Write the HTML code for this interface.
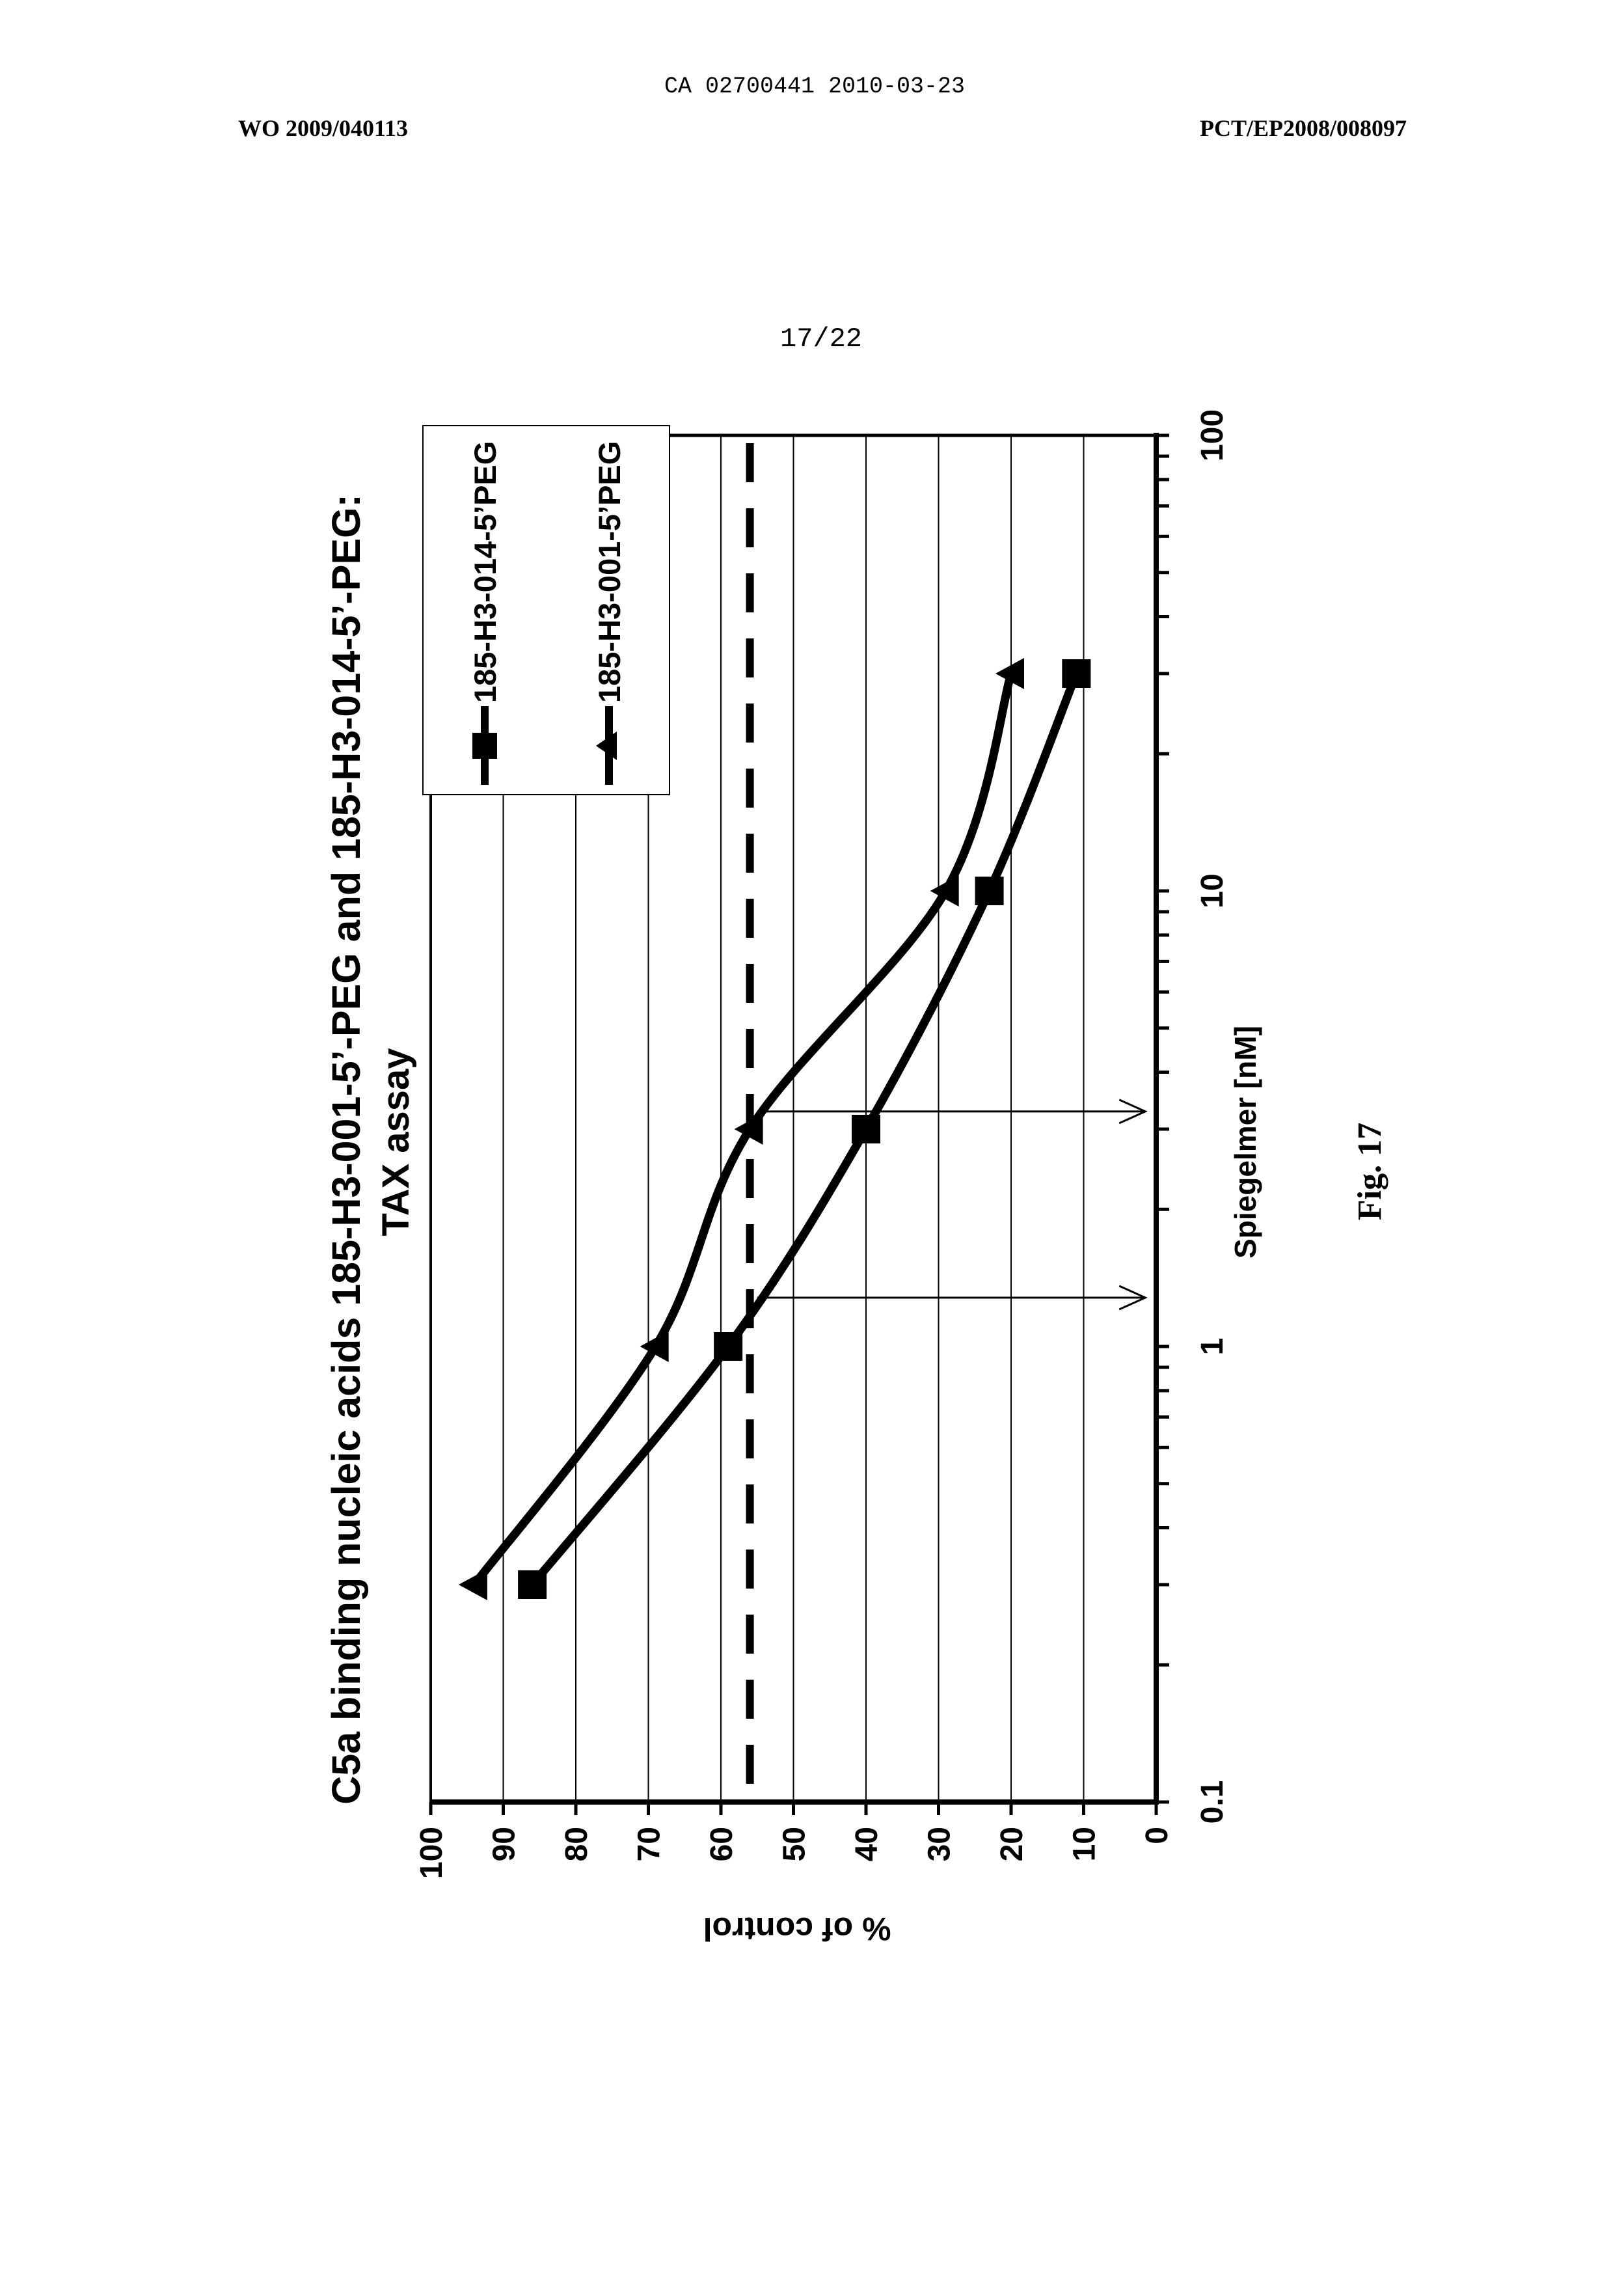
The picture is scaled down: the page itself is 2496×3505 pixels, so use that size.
<!DOCTYPE html>
<html><head><meta charset="utf-8"><style>
html,body{margin:0;padding:0;background:#fff;}
svg{display:block;}
text{font-family:"Liberation Sans",Arial,sans-serif;font-weight:bold;fill:#000;}
.ser{font-family:"Liberation Serif",serif;}
.mono{font-family:"Liberation Mono",monospace;font-weight:normal;}
</style></head><body>
<svg id="chart" width="2496" height="3505" viewBox="0 0 2496 3505" xmlns="http://www.w3.org/2000/svg">
<text class="mono" x="1252" y="142" font-size="35" text-anchor="middle">CA 02700441 2010-03-23</text>
<text class="ser" x="366" y="209" font-size="36">WO 2009/040113</text>
<text class="ser" x="2162" y="209" font-size="36" text-anchor="end">PCT/EP2008/008097</text>
<text class="mono" x="1262" y="532" font-size="42" text-anchor="middle">17/22</text>
<g id="plot"></g>
<text transform="translate(553,1766) rotate(-90)" font-size="61" text-anchor="middle">C5a binding nucleic acids 185-H3-001-5’-PEG and 185-H3-014-5’-PEG:</text>
<text transform="translate(628,1755) rotate(-90)" font-size="58" text-anchor="middle">TAX assay</text>
<text transform="translate(1225,2960) rotate(180)" font-size="50" text-anchor="middle" dominant-baseline="middle">% of control</text>
<text transform="translate(1930,1755) rotate(-90)" font-size="46" text-anchor="middle">Spiegelmer [nM]</text>
<text class="ser" transform="translate(2122,1800) rotate(-90)" font-size="52" text-anchor="middle">Fig. 17</text>
</svg>
<script>
const yTicks = [0,10,20,30,40,50,60,70,80,90,100];
const xTicks = [0.1,1,10,100];
const concSquare = [0.3,1,3,10,30];
const valSquare = [86,59,40,23,11];
const concTri = [0.3,1,3,10,30];
const valTri = [94,69,56,29,20];
const thresholdValue = 56;
const arrowConc = [3.28,1.28];
const arrowFrom = [55,55];
const arrowTo = [1.5,1.5];
const legendLabels = ["185-H3-014-5’PEG","185-H3-001-5’PEG"];

const NS="http://www.w3.org/2000/svg";
const g=document.getElementById('plot');
const X0=1777, PX=11.15, Y0=2769, DEC=700;
function vx(v){return X0 - v*PX;}
function cy(c){return Y0 - (Math.log10(c)+1)*DEC;}
function mk(tag,attrs,parent){const e=document.createElementNS(NS,tag);for(const k in attrs)e.setAttribute(k,attrs[k]);(parent||g).appendChild(e);return e;}

yTicks.forEach(v=>{
  if(v===0||v===100) return;
  const l=mk('line',{x1:vx(v),x2:vx(v),y1:cy(100),y2:Y0,stroke:'#000','stroke-width':2});
  
  
});
const la=mk('line',{x1:vx(100),x2:vx(100),y1:cy(100),y2:Y0,stroke:'#000','stroke-width':4});


const ta=mk('line',{x1:vx(100),x2:vx(0),y1:cy(100),y2:cy(100),stroke:'#000','stroke-width':5});


const ya=mk('line',{x1:vx(100)-2,x2:vx(0)+4,y1:Y0,y2:Y0,stroke:'#000','stroke-width':8});


const xa=mk('line',{x1:vx(0),x2:vx(0),y1:cy(100)-4,y2:Y0+4,stroke:'#000','stroke-width':8});


yTicks.forEach(v=>{
  const t=mk('line',{x1:vx(v),x2:vx(v),y1:Y0,y2:Y0+20,stroke:'#000','stroke-width':5});
  
  
  const tx=mk('text',{transform:`translate(${vx(v)+17},${Y0+38}) rotate(-90)`,'font-size':48,'text-anchor':'end'});
  tx.textContent=String(v);
  
  
});
for(let d=-1; d<2; d++){
  for(let m=1;m<=10;m++){
    const c=m*Math.pow(10,d);
    const t=mk('line',{x1:vx(0),x2:vx(0)+20,y1:cy(c),y2:cy(c),stroke:'#000','stroke-width':5});
    
    
  }
}
xTicks.forEach(c=>{
  const tx=mk('text',{transform:`translate(${vx(0)+102},${cy(c)}) rotate(-90)`,'font-size':48,'text-anchor':'middle'});
  tx.textContent=String(c);
  
  
});
const th=mk('line',{x1:vx(thresholdValue),x2:vx(thresholdValue),y1:cy(100)+12,y2:Y0-4,stroke:'#000','stroke-width':12,'stroke-dasharray':'60,40'});


arrowConc.forEach((c,i)=>{
  const y=cy(c), x1=vx(arrowFrom[i]), x2=vx(arrowTo[i]);
  const a=mk('path',{d:`M${x1},${y}L${x2},${y}M${x2-40},${y-18}L${x2},${y}L${x2-40},${y+18}`,stroke:'#000','stroke-width':3,fill:'none'});
  
  
});
function curve(cs,vs){
  const p=cs.map((c,i)=>[vx(vs[i]),cy(c)]);
  let d=`M${p[0][0]},${p[0][1]}`;
  for(let i=0;i<p.length-1;i++){
    const p0=p[i-1]||p[i],p1=p[i],p2=p[i+1],p3=p[i+2]||p2;
    const c1=[p1[0]+(p2[0]-p0[0])/6,p1[1]+(p2[1]-p0[1])/6];
    const c2=[p2[0]-(p3[0]-p1[0])/6,p2[1]-(p3[1]-p1[1])/6];
    d+=`C${c1[0]},${c1[1]} ${c2[0]},${c2[1]} ${p2[0]},${p2[1]}`;
  }
  return d;
}
const sq=mk('path',{d:curve(concSquare,valSquare),stroke:'#000','stroke-width':13,fill:'none'});


const tr=mk('path',{d:curve(concTri,valTri),stroke:'#000','stroke-width':13,fill:'none'});


concSquare.forEach((c,i)=>{
  const r=mk('rect',{x:vx(valSquare[i])-22,y:cy(c)-22,width:44,height:44,fill:'#000'});
  
  
});
concTri.forEach((c,i)=>{
  const x=vx(valTri[i]),y=cy(c);
  const t=mk('polygon',{points:`${x-24},${y} ${x+20},${y-24} ${x+20},${y+24}`,fill:'#000'});
  
  
});
const lg=mk('g',{});


const lb=mk('rect',{x:650,y:654,width:379,height:567,fill:'#fff',stroke:'#000','stroke-width':2},lg);


const legX=[745,936];
legendLabels.forEach((lab,i)=>{
  const x=legX[i];
  const ln=mk('line',{x1:x,x2:x,y1:1206,y2:1085,stroke:'#000','stroke-width':12},lg);
  
  
  if(i===0){
    const m=mk('rect',{x:x-19,y:1126,width:38,height:40,fill:'#000'},lg);
    
    
  } else {
    const m=mk('polygon',{points:`${x-20},${1146} ${x+12},${1124} ${x+12},${1168}`,fill:'#000'},lg);
    
    
  }
  const tx=mk('text',{transform:`translate(${x+17},1080) rotate(-90)`,'font-size':47},lg);
  tx.textContent=lab;
  
  
});
</script>
</body></html>
